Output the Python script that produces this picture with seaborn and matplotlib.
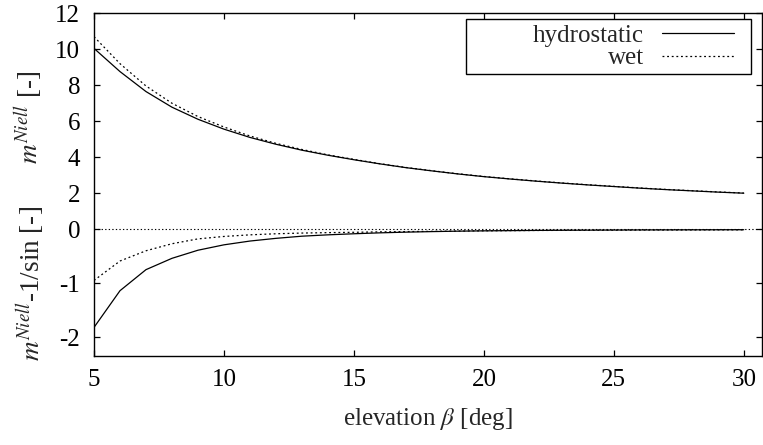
import numpy as np
import pandas as pd
import matplotlib
matplotlib.use("Agg")
import matplotlib.pyplot as plt
import seaborn as sns
from matplotlib.patches import Rectangle

# ---------------- data ----------------
elevation = list(range(5, 31))
m_hydro = [10.05, 8.76, 7.65, 6.78, 6.11, 5.56, 5.10, 4.72, 4.39, 4.11,
           3.86, 3.63, 3.42, 3.24, 3.07, 2.92, 2.79, 2.67, 2.56, 2.46,
           2.37, 2.28, 2.20, 2.13, 2.06, 2.00]
m_wet = [10.70, 9.20, 7.96, 7.00, 6.26, 5.68, 5.18, 4.77, 4.43, 4.13,
         3.88, 3.64, 3.43, 3.25, 3.08, 2.93, 2.80, 2.68, 2.57, 2.47,
         2.38, 2.29, 2.21, 2.14, 2.07, 2.01]
d_hydro = [-1.82, -1.14, -0.75, -0.54, -0.39, -0.29, -0.22, -0.17, -0.13, -0.105,
           -0.085, -0.068, -0.055, -0.045, -0.037, -0.031, -0.027, -0.023, -0.020, -0.018,
           -0.016, -0.014, -0.013, -0.012, -0.011, -0.010]
d_wet = [-0.95, -0.59, -0.40, -0.27, -0.18, -0.135, -0.105, -0.085, -0.072, -0.064,
         -0.058, -0.050, -0.045, -0.040, -0.035, -0.030, -0.027, -0.024, -0.022, -0.020,
         -0.018, -0.016, -0.015, -0.014, -0.013, -0.012]
components = ["hydrostatic", "wet"]
x_ticks = [5, 10, 15, 20, 25, 30]
y_ticks = [-2, -1, 0, 2, 4, 6, 8, 10, 12]
upper_label = r"$m^{Niell}$ [-]"
lower_label = r"$m^{Niell}$-1/sin [-]"
x_label = r"elevation $\beta$ [deg]"

rows = []
for comp, mvals, dvals in [("hydrostatic", m_hydro, d_hydro), ("wet", m_wet, d_wet)]:
    for e, mv, dv in zip(elevation, mvals, dvals):
        rows.append({"elevation": e, "value": mv, "component": comp, "quantity": "m"})
        rows.append({"elevation": e, "value": dv, "component": comp, "quantity": "diff"})
df = pd.DataFrame(rows)

# ---------------- style ----------------
sns.set_style("ticks")
plt.rcParams["font.family"] = ["Liberation Serif", "DejaVu Serif"]
plt.rcParams["mathtext.fontset"] = "stix"
FS = 18

fig = plt.figure(figsize=(7.63, 4.45), dpi=100)
W, H = 763, 445
left, right, top, bottom = 94, 762, 13.3, 356
ax = fig.add_axes([left / W, 1 - bottom / H, (right - left) / W, (bottom - top) / H])


def fwd(y):
    y = np.asarray(y, dtype=float)
    return np.where(y < 0, 3.0 * y, y)


def inv(y):
    y = np.asarray(y, dtype=float)
    return np.where(y < 0, y / 3.0, y)


ax.set_yscale("function", functions=(fwd, inv))

ax.axhline(0, color="black", lw=0.8, ls=(0, (1.2, 2.0)), zorder=1)

sns.lineplot(data=df, x="elevation", y="value", style="component", units="quantity",
             estimator=None, style_order=components,
             dashes={"hydrostatic": "", "wet": (1.5, 2.2)},
             color="black", lw=0.9, ax=ax, legend=True)

leg = ax.get_legend()
handles = list(leg.legend_handles)
labels = [t.get_text() for t in leg.get_texts()]
leg.remove()

ax.set_xlim(5, 30.7)
ax.set_ylim(-2.35, 12)
ax.set_xticks(x_ticks)
ax.set_yticks(y_ticks)
ax.set_xticklabels([str(v) for v in x_ticks])
ax.set_yticklabels([str(v) for v in y_ticks])
ax.tick_params(direction="in", length=4.5, width=0.9, top=True, right=True,
               labelsize=FS, colors="black")
ax.tick_params(axis="y", pad=10)
ax.tick_params(axis="x", pad=9)
for s in ax.spines.values():
    s.set_linewidth(1.0)
    s.set_color("black")
ax.set_xlabel(x_label, fontsize=FS, labelpad=11)
ax.set_ylabel("")

# legend
legend = ax.legend(handles, labels, loc="upper right",
                   bbox_to_anchor=(739 / W, 1 - 19.3 / H), bbox_transform=fig.transFigure,
                   frameon=False, markerfirst=False, fontsize=FS, handlelength=2.9,
                   handletextpad=0.7, borderpad=0.2, borderaxespad=0, labelspacing=0.0)
for h in legend.legend_handles:
    h.set_color("black")
    h.set_linewidth(0.9)
fig.add_artist(Rectangle((466 / W, 1 - 74 / H), 285 / W, 54.7 / H, fill=False,
                         lw=1.0, edgecolor="black", transform=fig.transFigure))

# split y labels
fig.text(29 / W, 1 - 117 / H, upper_label, rotation=90, ha="center", va="center", fontsize=19.5)
fig.text(31 / W, 1 - 283 / H, lower_label, rotation=90, ha="center", va="center", fontsize=19.5)

fig.savefig("out.png", dpi=100)
